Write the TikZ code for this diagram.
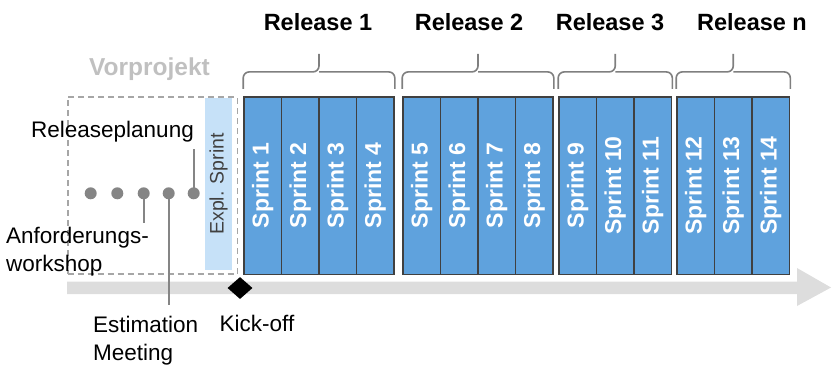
\documentclass[tikz,border=0pt]{standalone}
\usepackage{fontspec}
\setmainfont{Liberation Sans}
\usepackage{graphicx}
\usepackage{tikz}
\usetikzlibrary{calc,shapes.geometric}
\usepackage{xcolor}

\definecolor{sprintblue}{HTML}{5FA2DD}
\definecolor{explblue}{HTML}{C6E1F8}
\definecolor{axisgray}{HTML}{DDDDDD}
\definecolor{dotgray}{HTML}{858585}
\definecolor{boxgray}{HTML}{A6A6A6}
\definecolor{vorgray}{HTML}{C0C0C0}
\definecolor{framegray}{HTML}{404040}
\definecolor{bracegray}{HTML}{7F7F7F}

\begin{document}
\begin{tikzpicture}[x=1pt, y=-1pt,
		txt/.style={font=\fontsize{22.5}{28}\selectfont, inner sep=0pt},
		bold/.style={font=\fontsize{23.5}{28}\selectfont\bfseries, inner sep=0pt},
		sprint/.style={draw=framegray, line width=1.6pt, fill=sprintblue, text=white,
			minimum width=37.5pt, minimum height=177.6pt, inner sep=0pt,
			font=\fontsize{23}{24}\selectfont\bfseries},
		relbrace/.style={draw=bracegray, line width=1.6pt, rounded corners=6pt},
		lead/.style={draw=dotgray, line width=1.6pt},
		dot/.style={circle, fill=dotgray, minimum size=12pt, inner sep=0pt}]
		\useasboundingbox (0,0) rectangle (834,364);

		% time axis
		\fill[axisgray] (67,281.5) -- (797,281.5) -- (797,268) -- (831,287.5)
			-- (797,306) -- (797,294) -- (67,294) -- cycle;

		% Vorprojekt
		\node[bold, text=vorgray, anchor=base, font=\fontsize{24.5}{28}\selectfont\bfseries] (vor) at (149.5,75) {Vorprojekt};
		\node[draw=boxgray, line width=1.6pt, dash pattern=on 6pt off 4pt,
			minimum width=169.6pt, minimum height=177.3pt, inner sep=0pt] (vp) at (152.5,185.35) {};
		\node[fill=explblue, minimum width=27.3pt, minimum height=172.3pt, inner sep=0pt,
			text=framegray, font=\fontsize{19.5}{22}\selectfont] (expl) at (218.65,183.85)
			{\rotatebox{90}{Expl. Sprint}};

		\foreach \i/\x in {1/90.7, 2/117.3, 3/143.7, 4/168.7, 5/193.7}
			\node[dot] (d\i) at (\x,193.3) {};

		\coordinate (rpend) at (193.7,149.3);
		\coordinate (awend) at (143.7,223.3);
		\coordinate (emend) at (168.7,305);
		\draw[lead] (d5.center) -- (rpend);
		\draw[lead] (d3.center) -- (awend);
		\draw[lead] (d4.center) -- (emend);

		\node[txt, anchor=base] (rp) at (112.5,137.3) {Releaseplanung};
		\node[txt, anchor=base west, align=left] (aw) at (6,271.7) {Anforderungs-\\workshop};
		\node[txt, anchor=base west, align=left] (em) at (93,360) {Estimation\\Meeting};

		% kick-off
		\node[diamond, fill=black, minimum width=25pt, minimum height=22pt, inner sep=0pt] (ko) at (240,288) {};
		\node[txt, anchor=base] (kol) at (257,331.7) {Kick-off};

		% sprints
		\foreach \s in {1,...,4}
			\node[sprint] (s\s) at ({244+(\s-0.5)*37.5},185.5) {\rotatebox{90}{Sprint \s}};
		\foreach \s in {5,...,8}
			\node[sprint] (s\s) at ({403+(\s-4.5)*37.5},185.5) {\rotatebox{90}{Sprint \s}};
		\foreach \s in {9,...,11}
			\node[sprint] (s\s) at ({559+(\s-8.5)*37.5},185.5) {\rotatebox{90}{Sprint \s}};
		\foreach \s in {12,...,14}
			\node[sprint] (s\s) at ({677+(\s-11.5)*37.5},185.5) {\rotatebox{90}{Sprint \s}};

		% releases
		\foreach \a/\b in {s1/s4, s5/s8, s9/s11, s12/s14} {
			\coordinate (tip) at ([yshift=24pt]$(\a.north west)!.5!(\b.north east)$);
			\draw[relbrace] ([yshift=7pt]\a.north west) |- (tip) -- ++(0,18pt);
			\draw[relbrace] ([yshift=7pt]\b.north east) |- (tip);
		}
		\node[bold, anchor=base] (r1) at (318,30) {Release 1};
		\node[bold, anchor=base] (r2) at (469,30) {Release 2};
		\node[bold, anchor=base] (r3) at (610,30) {Release 3};
		\node[bold, anchor=base] (rn) at (752,30) {Release n};
	\end{tikzpicture}
\end{document}
